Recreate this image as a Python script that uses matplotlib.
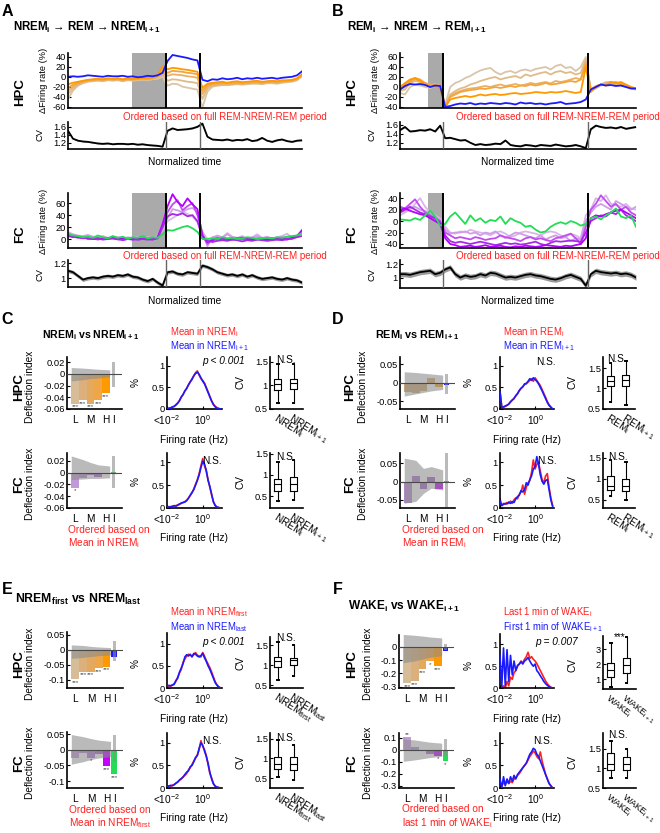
import numpy as np
import matplotlib
matplotlib.use("Agg")
import matplotlib.pyplot as plt
from matplotlib.ticker import FuncFormatter

plt.rcParams['font.family'] = ['Liberation Sans', 'DejaVu Sans']
plt.rcParams['mathtext.default'] = 'regular'
plt.rcParams['axes.unicode_minus'] = False

# ======================= DATA =======================
# ---- Panel A (bins: 20 NREM_i, 7 REM, 21 NREM_i+1) ----
A_HPC_BLUE = [0, 1, 0, 1, 3, 2, 1, 0, 2, 1, 1, 2, 0, 1, -1, 0, 2, 1, 3, 8,
              32, 44, 42, 40, 38, 35, 33,
              -6, -9, -5, -6, -3, -5, -4, -2, -5, -3, -4, -2, -4, -3, -2, -4, -2, -1, 0, 3, 11]
A_HPC_O1 = [-15, -12, -10, -8, -6, -5, -4, -5, -3, -4, -3, -5, -3, -4, -3, -2, -3, -1, 3, 22,
            15, 18, 17, 15, 14, 12, 10,
            -22, -14, -12, -11, -10, -12, -10, -9, -11, -10, -9, -8, -10, -9, -8, -9, -7, -7, -6, -3, 5]
A_HPC_O2 = [-22, -16, -12, -9, -7, -6, -5, -6, -4, -5, -4, -6, -4, -5, -4, -3, -4, -2, 2, 15,
            8, 12, 11, 10, 8, 7, 5,
            -28, -17, -14, -13, -12, -13, -12, -11, -12, -11, -10, -10, -11, -10, -9, -10, -9, -8, -7, -4, 4]
A_HPC_O3 = [-28, -20, -14, -10, -8, -7, -6, -7, -5, -6, -5, -7, -5, -6, -5, -4, -5, -3, 0, 10,
            2, 5, 4, 3, 1, 0, -2,
            -35, -20, -16, -15, -14, -15, -14, -13, -14, -13, -12, -12, -13, -11, -11, -12, -10, -9, -8, -5, 3]
A_HPC_O4 = [-35, -24, -16, -12, -9, -8, -7, -8, -6, -7, -6, -8, -6, -7, -6, -5, -6, -4, -2, 5,
            -8, -5, -6, -8, -10, -11, -13,
            -45, -24, -18, -17, -16, -16, -15, -14, -15, -14, -13, -13, -14, -12, -12, -13, -11, -10, -9, -6, 2]
A_HPC_O5 = [-45, -28, -18, -13, -10, -9, -8, -9, -7, -8, -7, -9, -7, -8, -7, -6, -7, -5, -4, 0,
            -18, -14, -15, -20, -22, -24, -26,
            -62, -30, -20, -18, -17, -17, -16, -15, -16, -15, -14, -14, -15, -13, -13, -14, -12, -11, -10, -7, 1]
A_HPC_CV = [1.50, 1.30, 1.25, 1.23, 1.22, 1.20, 1.18, 1.17, 1.18, 1.16, 1.17, 1.17, 1.16, 1.17, 1.15, 1.16, 1.14, 1.13, 1.12, 1.10,
            1.50, 1.56, 1.52, 1.53, 1.54, 1.56, 1.60,
            1.68, 1.35, 1.28, 1.27, 1.26, 1.28, 1.25, 1.27, 1.26, 1.29, 1.24, 1.26, 1.32, 1.25, 1.22, 1.26, 1.28, 1.24, 1.22, 1.25, 1.26]

A_FC_GREEN = [8, 6, 5, 3, 4, 2, 6, 3, 1, 5, 2, 4, 0, 3, 2, 5, 1, 3, 2, 8,
              15, 14, 17, 20, 22, 18, 12,
              0, 0, 1, 0, 3, 1, 2, 0, 1, 3, 2, 0, 1, 2, 1, 3, 2, 4, 5, 6, 10]
A_FC_P1 = [8, 5, 3, 2, 1, 0, 1, 0, 2, 1, 0, 1, 0, -1, 0, 1, 0, -1, 2, 25,
           55, 75, 62, 55, 68, 58, 50,
           5, -5, -2, 0, 1, 0, -1, 0, 2, 0, -1, 1, 0, -1, 0, 1, 0, -1, 2, 5, 15]
A_FC_P2 = [6, 4, 2, 3, 0, 1, -1, 1, 0, 2, -1, 0, 1, 0, -1, 0, 1, 0, 3, 22,
           45, 58, 65, 48, 55, 60, 40,
           8, -8, 0, 2, -1, 1, 0, 2, -1, 1, 0, -1, 1, 0, 2, -1, 0, 1, 0, 4, 12]
A_FC_P3 = [10, 7, 5, 4, 6, 3, 2, 4, 1, 3, 2, 0, 2, 1, 3, 0, 2, 1, 4, 18,
           35, 50, 48, 45, 50, 52, 45,
           10, -12, 3, 5, 2, 8, 3, 1, 4, 0, 2, 5, 1, 3, 0, 2, 4, 1, 3, 6, 8]
A_FC_P4 = [5, 3, 4, 1, 2, 0, 1, -1, 0, 1, 0, -2, 0, 1, -1, 0, -1, 0, 1, 20,
           38, 42, 40, 43, 38, 40, 30,
           2, -3, -5, -3, -2, -3, -1, -2, -4, -2, -3, -1, -2, -3, -2, -1, -2, 0, 1, 3, 5]
A_FC_P5 = [12, 8, 6, 5, 7, 4, 3, 5, 2, 4, 3, 1, 3, 2, 4, 1, 3, 2, 5, 15,
           30, 35, 40, 45, 42, 38, 28,
           12, 0, 2, 6, 3, 10, 4, 2, 5, 1, 3, 8, 2, 4, 1, 3, 5, 9, 2, 5, 10]
A_FC_CV = [1.10, 1.08, 1.03, 0.98, 1.00, 1.01, 1.00, 1.02, 1.03, 1.02, 1.04, 1.03, 1.05, 1.02, 1.01, 0.98, 0.96, 0.99, 0.94, 0.90,
           1.08, 1.09, 1.06, 1.05, 1.08, 1.07, 1.06,
           1.17, 1.15, 1.12, 1.08, 1.06, 1.04, 1.05, 1.03, 1.05, 1.02, 1.04, 1.01, 0.99, 1.00, 1.01, 0.99, 0.98, 1.00, 0.98, 0.97, 0.94]

# ---- Panel B (bins: 9 REM_i, 29 NREM, 10 REM_i+1) ----
B_HPC_BLUE = [-5, 2, 6, 5, 6, 4, 0, 3, 2,
              -40, -38, -35, -33, -34, -32, -35, -33, -34, -32, -33, -34, -32, -33, -35, -31, -33, -32, -34, -33,
              -35, -33, -32, -30, -34, -33, -32, -30, -25,
              -5, 0, 5, 3, 4, 2, 3, 0, -3, -3]
B_HPC_T1 = [-12, -15, 0, 5, 3, 0, -2, 2, 0,
            -35, 0, 8, 12, 18, 22, 28, 33, 36, 38, 30, 25, 30, 32, 28, 33, 35, 32, 36, 38,
            40, 35, 42, 45, 38, 40, 32, 40, 60,
            -5, 0, 5, 10, 8, 5, 3, 0, -3, -5]
B_HPC_T2 = [-8, -5, 8, 12, 10, 5, 2, 6, 3,
            -38, -15, -8, -3, 0, 5, 8, 12, 15, 18, 20, 15, 18, 20, 22, 18, 25, 22, 25, 28,
            30, 25, 30, 32, 28, 30, 25, 28, 55,
            -8, -3, 3, 8, 10, 5, 6, 2, -2, -4]
B_HPC_T3 = [-5, 0, 10, 15, 12, 8, 5, 5, 2,
            -38, -18, -12, -8, -5, -3, -2, 0, 2, 0, 3, 5, 2, 4, 6, 3, 5, 8, 6, 8,
            10, 7, 12, 10, 12, 15, 18, 15, 50,
            -5, 0, 5, 8, 10, 6, 8, 3, -2, -5]
B_HPC_T4 = [-3, 5, 12, 18, 15, 8, 3, 4, 0,
            -40, -20, -15, -10, -8, -6, -5, -3, -4, -2, 0, -2, 0, 2, 0, 3, 2, 5, 3, 5,
            8, 5, 6, 8, 10, 12, 10, 15, 45,
            -5, 2, 5, 3, 8, 10, 5, 4, 0, -4]
B_HPC_T5 = [0, 8, 15, 18, 12, 5, 0, 2, -2,
            -40, -25, -22, -20, -18, -20, -18, -15, -17, -15, -14, -16, -15, -13, -12, -14, -13, -12, -10, -11,
            -12, -10, -11, -10, -8, -10, -12, -10, 40,
            -10, 0, 5, 3, 10, 8, 10, 5, 0, -3]
B_HPC_CV = [1.48, 1.55, 1.45, 1.46, 1.48, 1.47, 1.50, 1.45, 1.58,
            1.30, 1.31, 1.28, 1.25, 1.26, 1.20, 1.15, 1.17, 1.15, 1.16, 1.18, 1.17, 1.25, 1.15, 1.13,
            1.12, 1.15, 1.14, 1.12, 1.15, 1.14, 1.13, 1.16, 1.14, 1.12, 1.13, 1.15, 1.12, 1.08,
            1.50, 1.58, 1.55, 1.53, 1.54, 1.52, 1.55, 1.51, 1.53, 1.55]

B_FC_GREEN = [3, 2, 1, 5, 2, 10, 18, 8, -8,
              -5, 8, 15, 5, -5, 10, 0, 5, -3, 2, 0, 8, -5, 5, 0, -3, -10, -8, -15, -20,
              -18, -10, -5, -2, -5, 0, -3, -8, -5,
              5, 8, 3, 10, 15, 22, 8, 5, 10, -10]
B_FC_P1 = [20, 22, 18, 15, 12, 10, 5, 0, -5,
           -30, -40, -42, -45, -44, -43, -45, -44, -42, -45, -44, -43, -45, -46, -44, -45, -43, -44, -45, -44,
           -42, -43, -44, -45, -43, -44, -42, -40, -30,
           5, 10, 8, 12, 15, 18, 20, 15, 10, 5]
B_FC_P2 = [15, 20, 25, 20, 15, 12, 8, 5, -3,
           -25, -35, -38, -36, -38, -40, -38, -36, -38, -40, -42, -40, -38, -40, -39, -41, -40, -38, -36, -40,
           -42, -38, -35, -36, -35, -34, -35, -36, -20,
           0, 5, 10, 8, 15, 12, 20, 10, 5, 0]
B_FC_P3 = [25, 22, 30, 38, 25, 15, 10, 5, 0,
           -20, -25, -30, -28, -30, -32, -28, -30, -33, -31, -30, -25, -28, -30, -32, -35, -30, -28, -32, -30,
           -33, -35, -30, -28, -25, -22, -30, -40, -10,
           20, 30, 45, 35, 25, 30, 20, 25, 15, 10]
B_FC_P4 = [15, 18, 22, 25, 20, 18, 12, 8, 2,
           -15, -22, -20, -20, -18, -22, -20, -25, -20, -22, -18, -25, -30, -25, -20, -22, -25, -28, -30, -25,
           -32, -28, -25, -30, -28, -35, -30, -32, 0,
           15, 25, 30, 25, 20, 35, 30, 25, 20, 25]
B_FC_P5 = [10, 15, 20, 30, 40, 25, 15, 10, 5,
           -10, -20, -22, -18, -20, -15, -18, -20, -22, -25, -20, -18, -22, -28, -25, -20, -18, -20, -22, -25,
           -20, -18, -20, -25, -28, -22, -25, -30, 10,
           20, 40, 35, 45, 30, 28, 25, 30, 22, 20]
B_FC_CV = [1.05, 1.05, 1.04, 1.06, 1.08, 1.09, 1.10, 1.05, 1.07,
           1.12, 1.15, 1.05, 1.00, 1.03, 1.01, 1.02, 1.05, 1.03, 1.07, 1.06, 1.03, 1.00, 1.01, 1.00,
           1.02, 1.04, 1.05, 1.03, 1.02, 1.00, 0.98, 0.97, 0.99, 1.02, 1.04, 1.01, 0.98, 0.88,
           1.05, 1.10, 1.08, 1.07, 1.06, 1.07, 1.05, 1.06, 1.04, 1.00]

# ---- Deflection-index bars: L, ., M, ., H, I ----
BAR_TICKS = ['L', 'M', 'H', 'I']
C_HPC_BAR = [-0.051, -0.045, -0.051, -0.045, -0.033, -0.001]
C_HPC_HI = [0.011, 0.010, 0.009, 0.008, 0.007]
C_HPC_LO = [-0.012, -0.010, -0.008, -0.007, -0.005]
C_HPC_CI = [-0.023, 0.021]
C_HPC_SIG = ['***', '***', '***', '***', '***', '']
C_FC_BAR = [-0.026, -0.0095, -0.004, -0.008, -0.0008, 0.0006]
C_FC_HI = [0.028, 0.022, 0.017, 0.013, 0.011]
C_FC_LO = [-0.012, -0.011, -0.010, -0.010, -0.009]
C_FC_CI = [-0.026, 0.028]
C_FC_SIG = ['*', '', '', '', '', '']

D_HPC_BAR = [-0.025, -0.027, -0.022, 0.013, -0.011, -0.007]
D_HPC_HI = [0.030, 0.028, 0.026, 0.024, 0.021]
D_HPC_LO = [-0.036, -0.030, -0.026, -0.022, -0.018]
D_HPC_CI = [-0.029, 0.025]
D_HPC_SIG = ['', '', '', '', '', '']
D_FC_BAR = [-0.059, 0.014, -0.020, 0.012, -0.021, 0.002]
D_FC_HI = [0.064, 0.058, 0.036, 0.041, 0.032]
D_FC_LO = [-0.059, -0.054, -0.032, -0.018, -0.023]
D_FC_CI = [-0.070, 0.077]
D_FC_SIG = ['', '', '', '', '', '']

E_HPC_BAR = [-0.098, -0.072, -0.072, -0.061, -0.056, -0.024]
E_HPC_HI = [0.017, 0.015, 0.012, 0.010, 0.008]
E_HPC_LO = [-0.028, -0.025, -0.022, -0.019, -0.017]
E_HPC_CI = [-0.036, 0.031]
E_HPC_SIG = ['***', '***', '***', '***', '***', '']
E_FC_BAR = [-0.025, -0.009, -0.025, -0.014, -0.052, -0.078]
E_FC_HI = [0.049, 0.042, 0.036, 0.031, 0.027]
E_FC_LO = [-0.046, -0.038, -0.031, -0.026, -0.022]
E_FC_CI = [-0.038, 0.049]
E_FC_SIG = ['', '', '*', '', '***', '***']

F_HPC_BAR = [-0.273, -0.260, -0.167, -0.109, -0.147, -0.028]
F_HPC_HI = [0.094, 0.088, 0.082, 0.075, 0.068]
F_HPC_LO = [-0.120, -0.105, -0.092, -0.078, -0.066]
F_HPC_CI = [-0.020, 0.025]
F_HPC_SIG = ['***', '***', '***', '*', '***', '']
F_FC_BAR = [0.105, 0.022, -0.005, -0.033, -0.050, -0.097]
F_FC_HI = [0.090, 0.082, 0.072, 0.063, 0.055]
F_FC_LO = [-0.097, -0.085, -0.075, -0.065, -0.055]
F_FC_CI = [-0.055, 0.090]
F_FC_SIG = ['**', '', '', '', '*', '*']

# ---- Firing-rate distributions (log10 rate bins -2.0 ... 1.0) ----
LOG_RATE_BINS = [-2.0, -1.9, -1.8, -1.7, -1.6, -1.5, -1.4, -1.3, -1.2, -1.1, -1.0,
                 -0.9, -0.8, -0.7, -0.6, -0.5, -0.4, -0.3, -0.2, -0.1, 0.0,
                 0.1, 0.2, 0.3, 0.4, 0.5, 0.6, 0.7, 0.8, 0.9, 1.0]
C_HPC_RED = [0.0, 0.01, 0.03, 0.04, 0.06, 0.09, 0.13, 0.20, 0.27, 0.34, 0.41, 0.48, 0.55, 0.62, 0.70, 0.76,
             0.84, 0.88, 0.78, 0.70, 0.66, 0.60, 0.50, 0.40, 0.29, 0.19, 0.11, 0.06, 0.03, 0.01, 0.0]
C_HPC_BLUE = [0.0, 0.02, 0.02, 0.05, 0.06, 0.10, 0.14, 0.19, 0.28, 0.33, 0.42, 0.47, 0.56, 0.63, 0.68, 0.77,
              0.82, 0.85, 0.80, 0.72, 0.64, 0.58, 0.48, 0.38, 0.28, 0.18, 0.10, 0.05, 0.02, 0.01, 0.0]
C_FC_RED = [0.02, 0.03, 0.02, 0.04, 0.05, 0.05, 0.07, 0.09, 0.10, 0.12, 0.14, 0.17, 0.22, 0.27, 0.33, 0.42,
            0.52, 0.62, 0.75, 0.92, 1.08, 0.92, 0.80, 0.62, 0.45, 0.28, 0.14, 0.06, 0.02, 0.01, 0.0]
C_FC_BLUE = [0.02, 0.02, 0.03, 0.03, 0.05, 0.04, 0.06, 0.08, 0.11, 0.12, 0.13, 0.16, 0.21, 0.28, 0.34, 0.40,
             0.50, 0.60, 0.72, 0.88, 1.02, 0.96, 0.82, 0.60, 0.47, 0.30, 0.13, 0.05, 0.02, 0.01, 0.0]
D_HPC_RED = [0.42, 0.05, 0.04, 0.06, 0.08, 0.12, 0.16, 0.20, 0.25, 0.30, 0.36, 0.42, 0.47, 0.52, 0.56, 0.60,
             0.62, 0.66, 0.70, 0.64, 0.72, 0.66, 0.60, 0.54, 0.45, 0.36, 0.27, 0.17, 0.10, 0.05, 0.0]
D_HPC_BLUE = [0.40, 0.04, 0.05, 0.07, 0.09, 0.11, 0.17, 0.21, 0.24, 0.31, 0.35, 0.43, 0.48, 0.51, 0.58, 0.58,
              0.64, 0.70, 0.66, 0.72, 0.68, 0.64, 0.58, 0.50, 0.42, 0.33, 0.24, 0.15, 0.08, 0.04, 0.0]
D_FC_RED = [0.20, 0.06, 0.10, 0.08, 0.12, 0.10, 0.15, 0.10, 0.18, 0.22, 0.20, 0.30, 0.35, 0.50, 0.30, 0.45,
            0.55, 0.60, 0.78, 1.05, 0.85, 0.95, 1.00, 0.80, 0.62, 0.55, 0.70, 0.75, 0.45, 0.22, 0.05]
D_FC_BLUE = [0.15, 0.05, 0.08, 0.10, 0.09, 0.13, 0.10, 0.14, 0.12, 0.20, 0.25, 0.28, 0.38, 0.35, 0.40, 0.55,
             0.50, 0.62, 0.70, 0.85, 0.90, 1.12, 0.95, 0.72, 0.58, 0.52, 0.60, 0.62, 0.40, 0.18, 0.04]
E_HPC_RED = [0.03, 0.05, 0.04, 0.06, 0.10, 0.15, 0.25, 0.34, 0.42, 0.58, 0.65, 0.72, 0.76, 0.74, 0.72, 0.75,
             0.80, 0.74, 0.72, 0.70, 0.80, 0.72, 0.62, 0.54, 0.46, 0.36, 0.25, 0.14, 0.07, 0.03, 0.0]
E_HPC_BLUE = [0.04, 0.06, 0.05, 0.07, 0.08, 0.17, 0.22, 0.36, 0.45, 0.55, 0.70, 0.75, 0.72, 0.76, 0.70, 0.78,
              0.76, 0.72, 0.70, 0.73, 0.78, 0.68, 0.60, 0.50, 0.42, 0.32, 0.22, 0.12, 0.06, 0.02, 0.0]
E_FC_RED = [0.03, 0.05, 0.04, 0.06, 0.08, 0.10, 0.14, 0.17, 0.20, 0.25, 0.28, 0.32, 0.40, 0.45, 0.52, 0.60,
            0.66, 0.74, 0.85, 1.05, 0.92, 0.85, 0.72, 0.52, 0.32, 0.22, 0.10, 0.04, 0.02, 0.01, 0.0]
E_FC_BLUE = [0.04, 0.04, 0.06, 0.05, 0.07, 0.11, 0.13, 0.18, 0.21, 0.24, 0.30, 0.35, 0.38, 0.47, 0.50, 0.58,
             0.68, 0.72, 0.88, 1.00, 0.95, 0.82, 0.70, 0.55, 0.35, 0.20, 0.09, 0.04, 0.02, 0.01, 0.0]
F_HPC_RED = [0.0, 0.0, 0.05, 0.0, 0.15, 0.05, 0.25, 0.20, 0.35, 0.40, 0.50, 0.55, 0.62, 0.58, 0.66, 0.72,
             0.82, 0.68, 0.72, 0.66, 0.62, 0.56, 0.48, 0.40, 0.32, 0.24, 0.16, 0.10, 0.05, 0.02, 0.0]
F_HPC_BLUE = [0.75, 0.02, 0.92, 0.05, 0.88, 0.15, 0.75, 0.30, 0.62, 0.40, 0.52, 0.55, 0.60, 0.55, 0.62, 0.65,
              0.70, 0.62, 0.55, 0.50, 0.55, 0.40, 0.35, 0.28, 0.22, 0.15, 0.10, 0.06, 0.03, 0.01, 0.0]
F_FC_RED = [0.10, 0.05, 0.12, 0.08, 0.15, 0.10, 0.15, 0.12, 0.20, 0.22, 0.28, 0.32, 0.38, 0.45, 0.50, 0.55,
            0.62, 0.70, 0.75, 0.82, 0.78, 0.70, 0.65, 0.80, 0.60, 0.45, 0.30, 0.20, 0.10, 0.05, 0.0]
F_FC_BLUE = [0.20, 0.00, 0.25, 0.05, 0.20, 0.10, 0.25, 0.15, 0.28, 0.20, 0.30, 0.35, 0.40, 0.45, 0.50, 0.55,
             0.65, 0.75, 0.80, 0.88, 0.85, 0.75, 0.70, 0.60, 0.50, 0.40, 0.30, 0.20, 0.10, 0.05, 0.0]

# ---- CV box plots: (whislo, q1, med, q3, whishi) ----
C_HPC_BOX = [(0.62, 0.91, 1.03, 1.14, 1.46), (0.62, 0.93, 1.06, 1.14, 1.46)]
C_FC_BOX = [(0.38, 0.63, 0.79, 0.90, 1.30), (0.42, 0.63, 0.79, 0.95, 1.35)]
D_HPC_BOX = [(0.67, 1.05, 1.18, 1.30, 1.64), (0.60, 1.05, 1.21, 1.33, 1.67)]
D_FC_BOX = [(0.58, 0.74, 0.82, 1.06, 1.46), (0.50, 0.70, 0.82, 1.00, 1.40)]
E_HPC_BOX = [(0.63, 0.96, 1.10, 1.19, 1.58), (0.73, 1.00, 1.12, 1.18, 1.50)]
E_FC_BOX = [(0.54, 0.72, 0.85, 1.04, 1.46), (0.46, 0.71, 0.85, 1.04, 1.33)]
F_HPC_BOX = [(0.50, 1.15, 1.60, 2.10, 3.40), (0.75, 1.40, 1.95, 2.45, 3.80)]
F_FC_BOX = [(0.75, 0.96, 1.12, 1.39, 1.70), (0.75, 0.96, 1.10, 1.29, 1.50)]

# ======================= STYLE =======================
W, H = 660, 833
fig = plt.figure(figsize=(6.6, 8.33), dpi=100)
fmt = FuncFormatter(lambda v, p: '%g' % round(v, 4))
RED = '#ff2020'
BLUE = '#1a1aff'
GREEN = '#22dd55'
ORANGES = ['#ff9900', '#f4a53a', '#e9b066', '#e0bb88', '#d9c6a8']
PURPLES = ['#b400ff', '#c24cf0', '#d09ce6', '#a828e8', '#d8b6e8']
HPC_BARC = ['#d6bd98', '#dcb07c', '#e5a95e', '#eea647', '#ff9900']
FC_BARC = ['#c29ad8', '#b58bcd', '#ad78d2', '#a861cf', '#c400ff']
FS = 7.3


def ax_px(x0, y0, x1, y1):
    ax = fig.add_axes([x0 / W, 1 - y1 / H, (x1 - x0) / W, (y1 - y0) / H])
    ax.spines['top'].set_visible(False)
    ax.spines['right'].set_visible(False)
    ax.spines['left'].set_linewidth(1.2)
    ax.spines['bottom'].set_linewidth(1.2)
    ax.tick_params(direction='in', length=2, width=0.8, labelsize=6.7, pad=1.5)
    ax.patch.set_alpha(0)
    return ax


def txt(x, y, s, **kw):
    kw.setdefault('ha', 'center')
    kw.setdefault('va', 'center')
    kw.setdefault('fontsize', FS)
    return fig.text(x / W, 1 - y / H, s, **kw)


def fr_panel(box, lines, colors, gray, bounds, ylim, yticks):
    ax = ax_px(*box)
    ax.axvspan(gray[0], gray[1], color='#aaaaaa', lw=0, zorder=0)
    for y, c in zip(lines, colors):
        ax.plot(np.arange(len(y)), y, color=c, lw=1.3, zorder=2)
    for b in bounds:
        ax.axvline(b, color='k', lw=1.4, zorder=3)
    ax.set_xlim(0, 47)
    ax.set_ylim(*ylim)
    ax.set_yticks(yticks)
    ax.set_xticks([])
    ax.yaxis.set_major_formatter(fmt)
    return ax


def cv_panel(box, cv, err, bounds, ylim, yticks):
    ax = ax_px(*box)
    cv = np.asarray(cv)
    t = np.arange(len(cv))
    ax.fill_between(t, cv - err, cv + err, color='#9a9a9a', lw=0, zorder=1)
    ax.plot(t, cv, color='k', lw=1.3, zorder=2)
    for b in bounds:
        ax.axvline(b, color='#666666', lw=1.0, zorder=3)
    ax.set_xlim(0, 47)
    ax.set_ylim(*ylim)
    ax.set_yticks(yticks)
    ax.set_xticks([])
    ax.yaxis.set_major_formatter(fmt)
    return ax


def bar_panel(box, vals, hi, lo, ci, colors, icolor, sig, ylim, yticks):
    ax = ax_px(*box)
    pos = np.arange(1, 6)
    ax.bar(pos, vals[:5], width=1.0, color=colors, lw=0, zorder=2)
    ax.bar(6, vals[5], width=0.75, color=icolor, lw=0, zorder=2)
    xs = pos.astype(float)
    xs[0] -= 0.5
    xs[-1] += 0.5
    ax.fill_between(xs, lo, hi, color='#8c8c8c', alpha=0.6, lw=0, zorder=3)
    ax.bar(6, ci[1] - ci[0], bottom=ci[0], width=0.45, color='#8c8c8c', alpha=0.6, lw=0, zorder=3)
    ax.axhline(0, color='#4a4a4a', lw=0.8, zorder=4)
    span = ylim[1] - ylim[0]
    for p, v, s in zip([1, 2, 3, 4, 5, 6], vals, sig):
        if s:
            if v < 0:
                ax.text(p, v - 0.01 * span, s, ha='center', va='top', fontsize=4.5, color='#444444')
            else:
                ax.text(p, v + 0.005 * span, s, ha='center', va='bottom', fontsize=4.5, color='#444444')
    ax.set_xlim(-0.05, 7.1)
    ax.set_ylim(*ylim)
    ax.set_yticks(yticks)
    ax.yaxis.set_major_formatter(fmt)
    ax.set_xticks([1, 3, 5, 6])
    ax.set_xticklabels(BAR_TICKS, fontsize=FS)
    ax.tick_params(axis='x', length=0, pad=4)
    return ax


def hist_panel(box, red, blue, ylim=(0, 1.2)):
    ax = ax_px(*box)
    x = 10.0 ** np.asarray(LOG_RATE_BINS)
    ax.plot(x, red, color=RED, lw=1.2, zorder=2)
    ax.plot(x, blue, color=BLUE, lw=1.2, zorder=3)
    ax.set_xscale('log')
    ax.set_xlim(10 ** -2.0, 10 ** 1.08)
    ax.set_xticks([1e-2, 1.0])
    ax.set_xticklabels(['<10$^{-2}$', '10$^{0}$'], fontsize=FS)
    ax.minorticks_off()
    ax.set_ylim(*ylim)
    ax.set_yticks([0, 0.5, 1])
    ax.yaxis.set_major_formatter(fmt)
    ax.tick_params(axis='x', pad=3)
    return ax


def box_panel(box, stats, labels, ylim, yticks, lab_fs=FS, rot=-32):
    ax = ax_px(*box)
    st = [dict(whislo=s[0], q1=s[1], med=s[2], q3=s[3], whishi=s[4], fliers=[]) for s in stats]
    lp = dict(color='k', lw=0.8)
    ax.bxp(st, positions=[1, 2], widths=0.45, showfliers=False, capwidths=0.1,
           boxprops=lp, whiskerprops=lp, capprops=dict(color='k', lw=1.4), medianprops=lp)
    ax.set_xlim(0.5, 2.6)
    ax.set_ylim(*ylim)
    ax.set_yticks(yticks)
    ax.yaxis.set_major_formatter(fmt)
    ax.set_xticks([1, 2])
    ax.set_xticklabels(labels, rotation=rot, ha='left', va='top', rotation_mode='anchor', fontsize=lab_fs)
    ax.tick_params(axis='x', length=0, pad=2)
    return ax


# ======================= PANEL A =======================
txt(7, 11, 'A', fontsize=11.5, fontweight='bold')
txt(13, 31, 'NREM$_{i}$ → REM → NREM$_{i+1}$', fontsize=8.3, fontweight='bold', ha='left', va='baseline')
fr_panel((68, 53, 302, 108), [A_HPC_O5, A_HPC_O4, A_HPC_O3, A_HPC_O2, A_HPC_O1, A_HPC_BLUE],
         ORANGES[::-1] + [BLUE], (12.85, 19.6), (19.6, 26.5), (-63, 48), [-60, -40, -20, 0, 20, 40])
cv_panel((68, 122, 302, 149), A_HPC_CV, 0.015, (19.6, 26.5), (1.04, 1.72), [1.2, 1.4, 1.6])
fr_panel((68, 193, 302, 248), [A_FC_P5, A_FC_P3, A_FC_P2, A_FC_P1, A_FC_P4, A_FC_GREEN],
         [PURPLES[4], PURPLES[2], PURPLES[1], PURPLES[0], PURPLES[3], GREEN],
         (12.85, 19.6), (19.6, 26.5), (-15, 77), [0, 20, 40, 60])
cv_panel((68, 260, 302, 287), A_FC_CV, 0.025, (19.6, 26.5), (0.88, 1.245), [1, 1.2])

# ======================= PANEL B =======================
txt(338, 11, 'B', fontsize=11.5, fontweight='bold')
txt(347, 31, 'REM$_{i}$ → NREM → REM$_{i+1}$', fontsize=8.3, fontweight='bold', ha='left', va='baseline')
fr_panel((400, 53, 636, 108), [B_HPC_T1, B_HPC_T2, B_HPC_T3, B_HPC_T4, B_HPC_T5, B_HPC_BLUE],
         ORANGES[::-1] + [BLUE], (5.6, 8.55), (8.55, 37.4), (-42, 68), [-40, -20, 0, 20, 40, 60])
cv_panel((400, 122, 636, 149), B_HPC_CV, 0.015, (8.55, 37.4), (1.06, 1.66), [1.2, 1.4, 1.6])
fr_panel((400, 193, 636, 248), [B_FC_P5, B_FC_P4, B_FC_P3, B_FC_P2, B_FC_P1, B_FC_GREEN],
         [PURPLES[4], PURPLES[2], PURPLES[1], PURPLES[3], PURPLES[0], GREEN],
         (5.6, 8.55), (8.55, 37.4), (-47, 49), [-40, -20, 0, 20, 40])
cv_panel((400, 260, 636, 288), B_FC_CV, 0.04, (8.55, 37.4), (0.845, 1.26), [1, 1.2])

for xo, xc in [(0, 185), (332, 518)]:
    txt(20 + xo, 92, 'HPC', fontsize=9.5, fontweight='bold', rotation=90)
    txt(20 + xo, 234, 'FC', fontsize=9.5, fontweight='bold', rotation=90)
    txt(43 + xo, 80, 'ΔFiring rate (%)', fontsize=6.7, rotation=90)
    txt(43 + xo, 221, 'ΔFiring rate (%)', fontsize=6.7, rotation=90)
    txt(40 + xo, 135, 'CV', fontsize=6.7, rotation=90)
    txt(40 + xo, 275, 'CV', fontsize=6.7, rotation=90)
    txt(xc, 162, 'Normalized time')
    txt(xc, 301, 'Normalized time')
txt(225, 117, 'Ordered based on full REM-NREM-REM period', color=RED, fontsize=7)
txt(225, 256, 'Ordered based on full REM-NREM-REM period', color=RED, fontsize=7)
txt(558, 117, 'Ordered based on full REM-NREM-REM period', color=RED, fontsize=7)
txt(558, 256, 'Ordered based on full REM-NREM-REM period', color=RED, fontsize=7)

# ======================= PANELS C-F =======================
LEG_FS = 6.9

# ---- C ----
txt(7, 320, 'C', fontsize=11.5, fontweight='bold')
txt(42, 338, 'NREM$_{i}$ vs NREM$_{i+1}$', fontsize=7.6, fontweight='bold', ha='left', va='baseline')
bar_panel((67, 357, 122, 409), C_HPC_BAR, C_HPC_HI, C_HPC_LO, C_HPC_CI, HPC_BARC, BLUE, C_HPC_SIG,
          (-0.06, 0.029), [-0.06, -0.04, -0.02, 0, 0.02])
bar_panel((67, 453, 122, 508), C_FC_BAR, C_FC_HI, C_FC_LO, C_FC_CI, FC_BARC, GREEN, C_FC_SIG,
          (-0.06, 0.033), [-0.06, -0.04, -0.02, 0, 0.02])
hist_panel((167, 357, 222, 409), C_HPC_RED, C_HPC_BLUE)
hist_panel((167, 453, 222, 508), C_FC_RED, C_FC_BLUE)
box_panel((270, 357, 303, 409), C_HPC_BOX, ['NREM$_{i}$', 'NREM$_{i+1}$'], (0.5, 1.6), [0.5, 1, 1.5])
box_panel((270, 453, 303, 508), C_FC_BOX, ['NREM$_{i}$', 'NREM$_{i+1}$'], (0.22, 1.52), [0.5, 1, 1.5])
txt(170, 332, 'Mean in NREM$_{i}$', color=RED, ha='left', fontsize=LEG_FS)
txt(170, 346, 'Mean in NREM$_{i+1}$', color=BLUE, ha='left', fontsize=LEG_FS)
txt(245, 361, 'p < 0.001', style='italic', ha='right')
txt(212, 461, 'N.S.')
txt(286, 360, 'N.S.')
txt(286, 457, 'N.S.')
txt(68, 530, 'Ordered based on', color=RED, ha='left')
txt(68, 543, 'Mean in NREM$_{i}$', color=RED, ha='left')

# ---- D ----
txt(338, 320, 'D', fontsize=11.5, fontweight='bold')
txt(375, 338, 'REM$_{i}$ vs REM$_{i+1}$', fontsize=7.8, fontweight='bold', ha='left', va='baseline')
bar_panel((400, 357, 455, 409), D_HPC_BAR, D_HPC_HI, D_HPC_LO, D_HPC_CI,
          ['#cfa978', '#cfa978', '#d4a870', '#d9a868', '#f5a020'], BLUE, D_HPC_SIG,
          (-0.071, 0.07), [-0.05, 0, 0.05])
bar_panel((400, 453, 455, 508), D_FC_BAR, D_FC_HI, D_FC_LO, D_FC_CI,
          ['#b48ad0', '#a874c8', '#a464c8', '#a060c8', '#c400ff'], GREEN, D_FC_SIG,
          (-0.072, 0.078), [-0.05, 0, 0.05])
hist_panel((500, 357, 554, 409), D_HPC_RED, D_HPC_BLUE)
hist_panel((500, 453, 554, 508), D_FC_RED, D_FC_BLUE)
box_panel((603, 357, 635, 409), D_HPC_BOX, ['REM$_{i}$', 'REM$_{i+1}$'], (0.49, 1.78), [0.5, 1, 1.5])
box_panel((603, 453, 635, 508), D_FC_BOX, ['REM$_{i}$', 'REM$_{i+1}$'], (0.3, 1.62), [0.5, 1, 1.5])
txt(503, 332, 'Mean in REM$_{i}$', color=RED, ha='left', fontsize=LEG_FS)
txt(503, 346, 'Mean in REM$_{i+1}$', color=BLUE, ha='left', fontsize=LEG_FS)
txt(546, 362, 'N.S.')
txt(547, 461, 'N.S.')
txt(617, 359, 'N.S.')
txt(618, 457, 'N.S.')
txt(402, 530, 'Ordered based on', color=RED, ha='left')
txt(402, 543, 'Mean in REM$_{i}$', color=RED, ha='left')

# ---- E ----
txt(7, 590, 'E', fontsize=11.5, fontweight='bold')
txt(15, 603, 'NREM$_{first}$ vs NREM$_{last}$', fontsize=8.8, fontweight='bold', ha='left', va='baseline')
bar_panel((67, 632, 123, 688), E_HPC_BAR, E_HPC_HI, E_HPC_LO, E_HPC_CI, HPC_BARC, BLUE, E_HPC_SIG,
          (-0.127, 0.06), [-0.1, -0.05, 0, 0.05])
bar_panel((67, 732, 123, 788), E_FC_BAR, E_FC_HI, E_FC_LO, E_FC_CI, FC_BARC, GREEN, E_FC_SIG,
          (-0.122, 0.057), [-0.1, -0.05, 0, 0.05])
hist_panel((167, 633, 222, 688), E_HPC_RED, E_HPC_BLUE, (0, 1.24))
hist_panel((167, 733, 222, 788), E_FC_RED, E_FC_BLUE, (0, 1.22))
box_panel((270, 637, 303, 688), E_HPC_BOX, ['NREM$_{first}$', 'NREM$_{last}$'], (0.43, 1.7), [0.5, 1, 1.5])
box_panel((270, 733, 303, 788), E_FC_BOX, ['NREM$_{first}$', 'NREM$_{last}$'], (0.25, 1.64), [0.5, 1, 1.5])
txt(170, 612, 'Mean in NREM$_{first}$', color=RED, ha='left', fontsize=LEG_FS)
txt(170, 627, 'Mean in NREM$_{last}$', color=BLUE, ha='left', fontsize=LEG_FS)
txt(245, 642, 'p < 0.001', style='italic', ha='right')
txt(212, 741, 'N.S.')
txt(286, 638, 'N.S.')
txt(286, 738, 'N.S.')
txt(69, 810, 'Ordered based on', color=RED, ha='left')
txt(69, 823, 'Mean in NREM$_{first}$', color=RED, ha='left')

# ---- F ----
txt(338, 590, 'F', fontsize=11.5, fontweight='bold')
txt(348, 610, 'WAKE$_{i}$ vs WAKE$_{i+1}$', fontsize=8.6, fontweight='bold', ha='left', va='baseline')
bar_panel((399, 635, 454, 688), F_HPC_BAR, F_HPC_HI, F_HPC_LO, F_HPC_CI, HPC_BARC, BLUE, F_HPC_SIG,
          (-0.31, 0.09), [-0.3, -0.2, -0.1, 0])
bar_panel((399, 733, 454, 788), F_FC_BAR, F_FC_HI, F_FC_LO, F_FC_CI, FC_BARC, GREEN, F_FC_SIG,
          (-0.32, 0.14), [-0.3, -0.2, -0.1, 0, 0.1])
hist_panel((500, 634, 554, 688), F_HPC_RED, F_HPC_BLUE, (0, 1.24))
hist_panel((500, 733, 554, 788), F_FC_RED, F_FC_BLUE, (0, 1.22))
box_panel((603, 636, 636, 689), F_HPC_BOX, ['WAKE$_{i}$', 'WAKE$_{i+1}$'], (0.35, 3.9), [1, 2, 3],
          lab_fs=6.6, rot=-38)
box_panel((603, 733, 636, 788), F_FC_BOX, ['WAKE$_{i}$', 'WAKE$_{i+1}$'], (0.5, 1.9), [0.5, 1, 1.5],
          lab_fs=6.6, rot=-38)
txt(503, 612, 'Last 1 min of WAKE$_{i}$', color=RED, ha='left', fontsize=LEG_FS)
txt(503, 627, 'First 1 min of WAKE$_{i+1}$', color=BLUE, ha='left', fontsize=LEG_FS)
txt(578, 642, 'p = 0.007', style='italic', ha='right')
txt(543, 741, 'N.S.')
txt(620, 637, '***')
txt(618, 735, 'N.S.')
txt(402, 809, 'Ordered based on', color=RED, ha='left')
txt(402, 823, 'last 1 min of WAKE$_{i}$', color=RED, ha='left')

# ---- row labels for C-F ----
for xo, yh, yf, dx in [(0, 387, 484, 0), (331, 387, 484, 2), (0, 664, 763, 0), (333, 664, 763, 5)]:
    txt(19 + xo, yh, 'HPC', fontsize=9.5, fontweight='bold', rotation=90)
    txt(19 + xo, yf, 'FC', fontsize=9.5, fontweight='bold', rotation=90)
    txt(30 + xo + dx, yh, 'Deflection index', rotation=90)
    txt(30 + xo + dx, yf, 'Deflection index', rotation=90)
for xo, yh, yf in [(0, 382, 482), (333, 382, 482), (0, 663, 762), (333, 665, 762)]:
    txt(136 + xo, yh, '%', rotation=90)
    txt(136 + xo, yf, '%', rotation=90)
    txt(240 + xo, yh, 'CV', rotation=90)
    txt(240 + xo, yf, 'CV', rotation=90)
for xc, y1, y2 in [(194, 440, 538), (527, 440, 538), (194, 719, 818), (527, 719, 818)]:
    txt(xc, y1, 'Firing rate (Hz)')
    txt(xc, y2, 'Firing rate (Hz)')

fig.savefig('out.png', dpi=100)
